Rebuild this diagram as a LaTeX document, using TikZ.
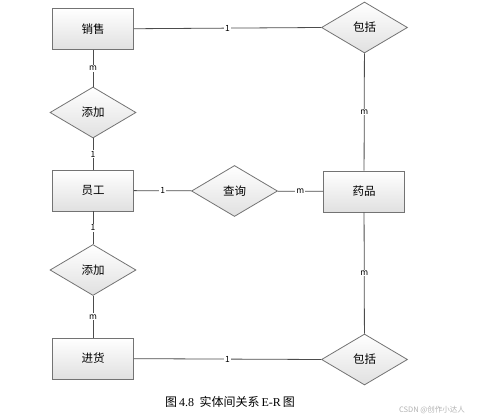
\documentclass[tikz,border=0pt]{standalone}
\usepackage{fontspec}
\setmainfont{Noto Sans CJK SC}
\newfontfamily\capfont{Liberation Serif}
\usepackage{tikz}
\usetikzlibrary{shapes.geometric, positioning}
\tikzset{
  er_base/.style = {align=center, inner sep=0pt, text centered, font=\fontsize{11.5}{13}\selectfont,
                    draw=black!55, line width=0.8pt, top color=white, bottom color=black!12},
  ent_n/.style = {er_base, rectangle, minimum width=81pt, minimum height=41pt},
  rel_d/.style = {er_base, diamond, minimum width=86pt, minimum height=51pt},
  lbl/.style = {fill=white, inner sep=1pt, font=\fontsize{8.5}{9}\selectfont},
  conn/.style = {draw=black!70, line width=0.8pt}
}
\begin{document}
\begin{tikzpicture}[x=1pt, y=-1pt]
  \useasboundingbox (0,0) rectangle (499,419);
  % entities
  \node [ent_n] (sale)  at (93,29)    {销售};
  \node [ent_n] (staff) at (93,190.5) {员工};
  \node [ent_n] (stock) at (93,358.5) {进货};
  \node [ent_n] (drug)  at (364,191.5) {药品};
  % relations
  \node [rel_d] (addA)  at (93,112.5)  {添加};
  \node [rel_d] (addB)  at (93,270)    {添加};
  \node [rel_d] (incA)  at (364.5,27.5) {包括};
  \node [rel_d] (incB)  at (364.5,359.5) {包括};
  \node [rel_d] (query) at (234.5,191) {查询};
  % connectors
  \path [conn] (sale) -- node[lbl]{m} (addA);
  \path [conn] (addA) -- node[lbl]{1} (staff);
  \path [conn] (staff) -- node[lbl]{1} (addB);
  \path [conn] (addB) -- node[lbl]{m} (stock);
  \path [conn] (staff) -- node[lbl]{1} (query);
  \path [conn] (query) -- node[lbl]{m} (drug);
  \path [conn] (sale) -- node[lbl]{1} (incA.west);
  \path [conn] (stock) -- node[lbl]{1} (incB.west);
  \path [conn] (incA) -- node[lbl]{m} (drug);
  \path [conn] (drug) -- node[lbl]{m} (incB);
  % caption
  \node (cap) at (230,402) {\fontsize{12}{14}\selectfont 图\,{\capfont 4.8}\ \ 实体间关系\,{\capfont E-R}\,图};
  \node [text=black!30, font=\fontsize{7.5}{9}\selectfont] (mark) at (432,410) {CSDN @创作小达人};
\end{tikzpicture}
\end{document}
